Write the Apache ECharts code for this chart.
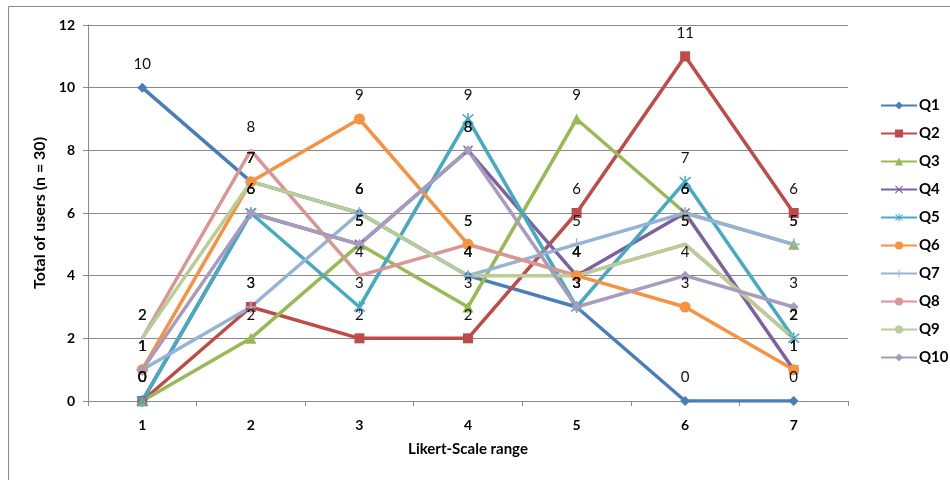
<!DOCTYPE html>
<html>
<head>
<meta charset="utf-8">
<script src="https://cdn.jsdelivr.net/npm/echarts@6/dist/echarts.min.js"></script>
<style>html,body{margin:0;padding:0;background:#fff}#c{width:950px;height:480px}</style>
</head>
<body>
<div id="c"></div>
<script>
const categories = ['1','2','3','4','5','6','7'];
const seriesNames = ['Q1','Q2','Q3','Q4','Q5','Q6','Q7','Q8','Q9','Q10'];
const Q1 = [10,7,6,4,3,0,0];
const Q2 = [0,3,2,2,6,11,6];
const Q3 = [0,2,5,3,9,6,5];
const Q4 = [0,6,5,8,4,6,1];
const Q5 = [0,6,3,9,3,7,2];
const Q6 = [1,7,9,5,4,3,1];
const Q7 = [1,3,6,4,5,6,5];
const Q8 = [2,8,4,5,4,5,2];
const Q9 = [2,7,6,4,4,5,2];
const Q10 = [1,6,5,8,3,4,3];
const yTicks = [0,2,4,6,8,10,12];

const seriesData = [Q1,Q2,Q3,Q4,Q5,Q6,Q7,Q8,Q9,Q10];
const colors = ['#4A7EBB','#BE4B48','#98B954','#7D60A0','#46AAC5','#F69240','#95B3D7','#D99694','#B9CD96','#A99BBD'];
const X = 'path://M0,1L1,0L5,4L9,0L10,1L6,5L10,9L9,10L5,6L1,10L0,9L4,5Z';
const AST = 'path://M0,1L1,0L5,4L9,0L10,1L6,5L10,9L9,10L5,6L1,10L0,9L4,5ZM4.4,-1L5.6,-1L5.6,11L4.4,11Z';
const PLUS = 'path://M4.4,0L5.6,0L5.6,10L4.4,10ZM0,4.4L10,4.4L10,5.6L0,5.6Z';
const symbols = ['diamond','rect','triangle',X,AST,'circle',PLUS,'circle','circle','diamond'];
const sizes = [10,10,11,10,12,11,12,0.01,0.01,10];
const font = 'Lato, "Liberation Sans", sans-serif';

const chart = echarts.init(document.getElementById('c'));
chart.setOption({
  animation: false,
  backgroundColor: '#fff',
  color: colors,
  graphic: [{type:'rect', shape:{x:8.5,y:6.5,width:1000,height:600}, style:{fill:'none', stroke:'#8a8a8a', lineWidth:1}, silent:true, z:-1}],
  grid: {left: 88, right: 102, top: 25, bottom: 79},
  legend: {
    orient: 'vertical', left: 875, top: 93, itemWidth: 36, itemHeight: 10, itemGap: 13,
    textStyle: {fontFamily: font, fontWeight: 'bold', fontSize: 15, color: '#000', padding: [0,0,0,-3]},
    data: seriesNames
  },
  xAxis: {
    type: 'category', data: categories, boundaryGap: true,
    name: 'Likert-Scale range', nameLocation: 'middle', nameGap: 41,
    nameTextStyle: {fontFamily: font, fontWeight: 'bold', fontSize: 15, color: '#000'},
    axisLine: {lineStyle: {color: '#8a8a8a', width: 1}},
    axisTick: {show: true, length: 5, lineStyle: {color: '#8a8a8a'}},
    axisLabel: {fontFamily: font, fontWeight: 'bold', fontSize: 14, color: '#000', margin: 17}
  },
  yAxis: {
    type: 'value', min: 0, max: 12, interval: 2,
    name: 'Total of users (n = 30)', nameLocation: 'middle', nameGap: 36,
    nameTextStyle: {fontFamily: font, fontWeight: 'bold', fontSize: 16, color: '#000'},
    axisLine: {show: true, lineStyle: {color: '#8a8a8a', width: 1}},
    axisTick: {show: true, length: 5, lineStyle: {color: '#8a8a8a'}},
    axisLabel: {fontFamily: font, fontWeight: 'bold', fontSize: 14, color: '#000', margin: 13,
      formatter: v => yTicks.includes(v) ? String(v) : ''},
    splitLine: {show: true, lineStyle: {color: '#8a8a8a', width: 1}}
  },
  series: seriesNames.map((n, i) => ({
    name: n, type: 'line', data: seriesData[i],
    symbol: symbols[i], symbolSize: sizes[i], showSymbol: true,
    lineStyle: {width: 3.5, color: colors[i]},
    itemStyle: {color: colors[i], borderColor: colors[i], borderWidth: 0},
    label: {show: true, position: 'top', distance: 16 - sizes[i] / 2, fontFamily: font, fontSize: 15, color: '#111'},
    emphasis: {disabled: true}
  }))
});
</script>
</body>
</html>
